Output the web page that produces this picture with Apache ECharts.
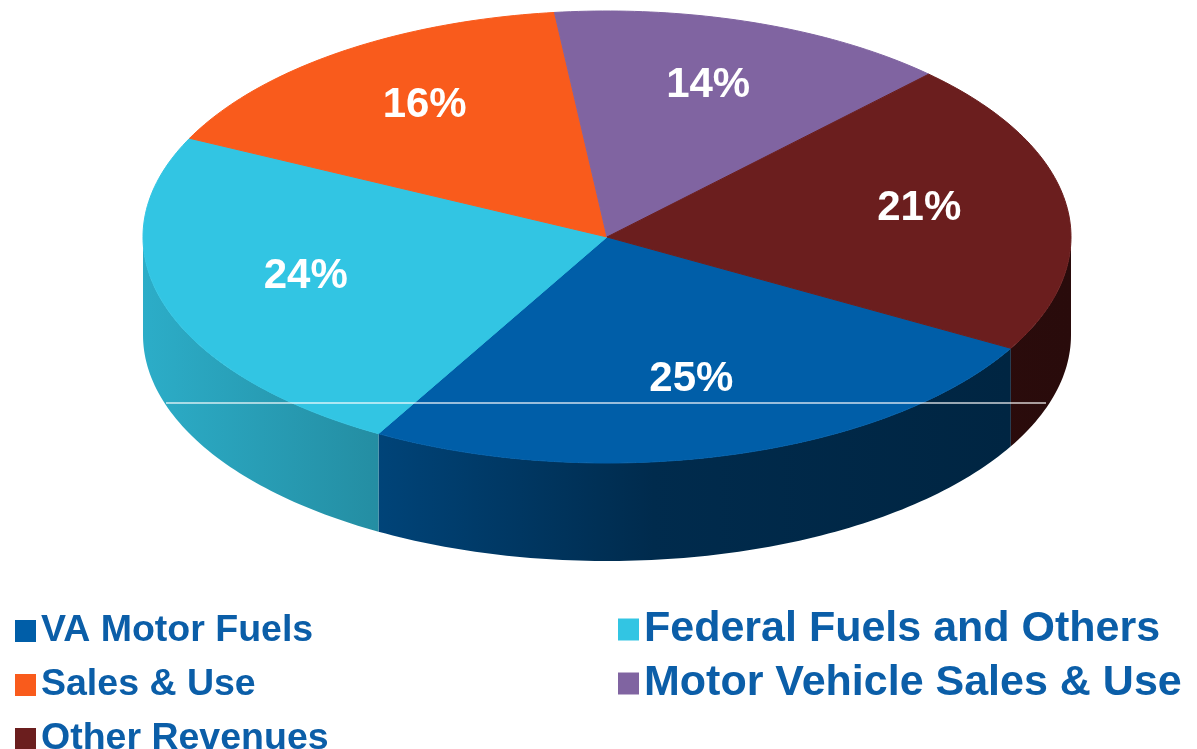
<!DOCTYPE html>
<html>
<head>
<meta charset="utf-8">
<script src="https://cdn.jsdelivr.net/npm/echarts@6/dist/echarts.min.js"></script>
<style>
html, body { margin: 0; padding: 0; background: #fff; }
#chart1 { width: 1197px; height: 749px; }
</style>
</head>
<body>
<div id="chart1"></div>
<script>
// revenue shares (percent), in pie order, clockwise
var names = ["VA Motor Fuels", "Federal Fuels and Others", "Sales & Use", "Motor Vehicle Sales & Use", "Other Revenues"];
var shares = [25, 24, 16, 14, 21];
var labels = ["25%", "24%", "16%", "14%", "21%"];

var colors = ["#005ea8", "#32c5e3", "#f95b1c", "#8064a1", "#6b1e1e"];

// tilted pie geometry
var cx = 607, cy = 237, rx = 464, ry = 226, depth = 98;
var startAngle = 29.5;   // degrees, clockwise from 3 o'clock
var labelRadius = 0.68;

var total = 0;
for (var i = 0; i < shares.length; i++) total += shares[i];

var angles = [];
var acc = startAngle;
for (var i = 0; i < shares.length; i++) {
	var span = shares[i] / total * 360;
	angles.push([acc, acc + span]);
	acc += span;
}

function pt(a, r, dy) {
	var rad = a * Math.PI / 180;
	return [cx + r * rx * Math.cos(rad), cy + r * ry * Math.sin(rad) + (dy || 0)];
}

function arcPoints(a0, a1, dy) {
	var out = [];
	var n = Math.max(2, Math.ceil(a1 - a0));
	for (var k = 0; k <= n; k++) out.push(pt(a0 + (a1 - a0) * k / n, 1, dy));
	return out;
}

function shade(hex, f) {
	var c = echarts.color.parse(hex);
	return "rgb(" + Math.round(c[0] * f) + "," + Math.round(c[1] * f) + "," + Math.round(c[2] * f) + ")";
}

//侧面渐变: lighter left, darker right
function sideFill(hex) {
	return new echarts.graphic.LinearGradient(cx - rx, 0, cx + rx, 0, [
		{ offset: 0, color: shade(hex, 0.88) },
		{ offset: 0.25, color: shade(hex, 0.72) },
		{ offset: 0.55, color: shade(hex, 0.46) },
		{ offset: 1, color: shade(hex, 0.38) }
	], true);
}

function makeRender(i) {
	return function (params, api) {
		var a0 = angles[i][0], a1 = angles[i][1];
		var children = [];

		// visible front wall
		[0, 360].forEach(function (base) {
			var s = Math.max(a0, base), e = Math.min(a1, base + 180);
			if (e > s) {
				var top = arcPoints(s, e, 0);
				var bottom = arcPoints(s, e, depth).reverse();
				children.push({
					type: "polygon",
					z2: 1,
					shape: { points: top.concat(bottom) },
					style: { fill: sideFill(colors[i]) }
				});
			}
		});

		// top face
		children.push({
			type: "polygon",
			z2: 10,
			shape: { points: [[cx, cy]].concat(arcPoints(a0, a1, 0)) },
			style: { fill: colors[i], stroke: colors[i], lineWidth: 1 }
		});

		var lp = pt((a0 + a1) / 2, labelRadius, -6);
		children.push({
			type: "text",
			z2: 20,
			style: {
				text: labels[i],
				x: lp[0],
				y: lp[1],
				fill: "#fff",
				font: 'bold 42px "Liberation Sans", Arial, sans-serif',
				align: "center",
				verticalAlign: "middle"
			}
		});

		return { type: "group", children: children };
	};
}

var series = [];
for (let i = 0; i < names.length; i++) {
	series.push({
		type: "custom",
		name: names[i],
		coordinateSystem: "none",
		itemStyle: { color: colors[i] },
		data: [[shares[i]]],
		renderItem: makeRender(i),
		animation: false
	});
}

function legendText(size) {
	return {
		color: "#0b5ea8",
		fontSize: size,
		fontWeight: "bold",
		fontFamily: '"Liberation Sans", Arial, sans-serif',
		lineHeight: 40
	};
}

var chart = echarts.init(document.getElementById("chart1"));

chart.setOption({
	backgroundColor: "#fff",
	animation: false,
	legend: [{
		left: 10,
		top: 606,
		height: 300,
		orient: "vertical",
		icon: "rect",
		itemWidth: 21,
		itemHeight: 22,
		itemGap: 14,
		selectedMode: false,
		data: [names[0], names[2], names[4]],
		textStyle: legendText(37.5)
	}, {
		left: 613,
		top: 603,
		height: 300,
		orient: "vertical",
		icon: "rect",
		itemWidth: 21,
		itemHeight: 22,
		itemGap: 11,
		selectedMode: false,
		data: [names[1], names[3]],
		textStyle: legendText(43)
	}],
	graphic: [{
		type: "line",
		z: 100,
		shape: { x1: 166, y1: 403, x2: 1046, y2: 403 },
		style: { stroke: "rgba(255,255,255,0.8)", lineWidth: 1.5 }
	}],
	series: series
});
</script>
</body>
</html>
